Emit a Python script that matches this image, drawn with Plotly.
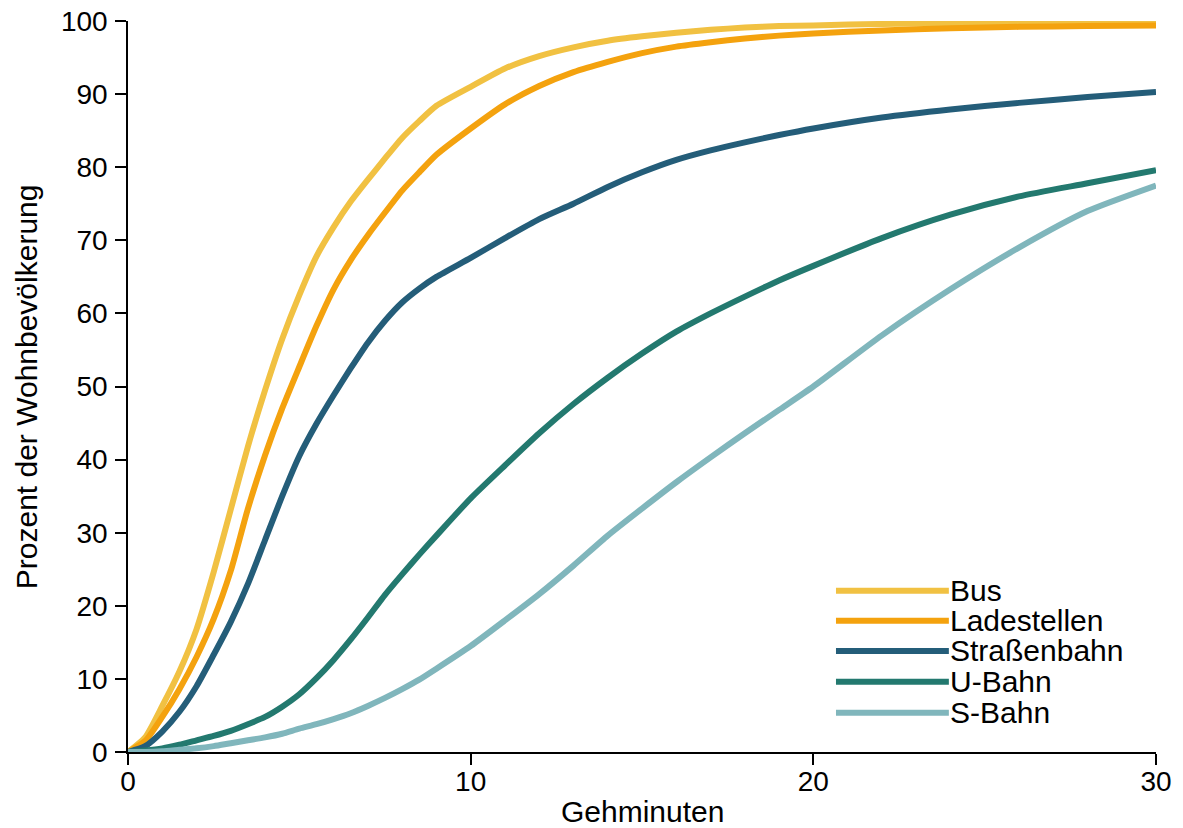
import plotly.graph_objects as go

minutes = [0, 0.5, 1, 1.5, 2, 2.5, 3, 3.5, 4, 4.5, 5, 5.5, 6, 6.5, 7, 7.5, 8, 8.5, 9,
           10, 11, 12, 13, 14, 15, 16, 17, 18, 19, 20, 22, 24, 26, 28, 30]

bus = [0, 2, 6.3, 11, 16.8, 24.6, 33.2, 41.8, 49.5, 56.5, 62.5, 67.8, 71.8, 75.3, 78.3, 81.2,
       84, 86.3, 88.4, 91, 93.5, 95.2, 96.4, 97.3, 97.9, 98.4, 98.8, 99.1, 99.3, 99.4,
       99.6, 99.7, 99.75, 99.8, 99.8]
ladestellen = [0, 1.5, 4.8, 8.6, 13, 18.2, 24.8, 33.3, 40.6, 47, 52.7, 58.3, 63.3, 67.3,
               70.7, 73.8, 76.8, 79.3, 81.7, 85.3, 88.6, 91.1, 93, 94.4, 95.6, 96.5, 97.1,
               97.6, 98.0, 98.3, 98.7, 99.0, 99.2, 99.3, 99.4]
strassenbahn = [0, 0.8, 2.8, 5.5, 9, 13.3, 17.8, 23, 29, 35, 40.5, 44.9, 48.8, 52.5, 56,
                59, 61.5, 63.4, 65, 67.6, 70.3, 72.9, 75, 77.3, 79.3, 81, 82.3, 83.4,
                84.4, 85.3, 86.8, 87.9, 88.8, 89.6, 90.3]
ubahn = [0, 0.2, 0.5, 1.0, 1.6, 2.2, 2.9, 3.8, 4.8, 6.2, 7.9, 10.1, 12.6, 15.4, 18.4, 21.5,
         24.3, 27, 29.6, 34.7, 39.2, 43.6, 47.6, 51.2, 54.5, 57.5, 60, 62.3, 64.5, 66.5,
         70.3, 73.5, 76, 77.8, 79.6]
sbahn = [0, 0, 0.1, 0.3, 0.5, 0.8, 1.2, 1.6, 2, 2.5, 3.2, 3.8, 4.5, 5.3, 6.3, 7.4, 8.6,
         9.9, 11.4, 14.5, 18, 21.6, 25.5, 29.6, 33.3, 36.9, 40.3, 43.6, 46.8, 50, 57,
         63.3, 69, 74, 77.5]

names = ["Bus", "Ladestellen", "Straßenbahn", "U-Bahn", "S-Bahn"]
series = [bus, ladestellen, strassenbahn, ubahn, sbahn]
colors = ["#F1C142", "#F4A20E", "#245D79", "#23796F", "#80B6BC"]

x_ticks = [0, 10, 20, 30]
y_ticks = [0, 10, 20, 30, 40, 50, 60, 70, 80, 90, 100]

FONT = "Liberation Sans, Arial, sans-serif"

fig = go.Figure()
for name, vals, col in zip(names, series, colors):
    fig.add_trace(go.Scatter(x=minutes, y=vals, mode="lines", name=name,
                             line=dict(color=col, width=6, shape="spline", smoothing=0.6),
                             showlegend=False))

# custom legend (long line samples like the original)
leg_y = [0.2206, 0.1796, 0.1382, 0.0962, 0.0538]
for name, col, yy in zip(names, colors, leg_y):
    fig.add_shape(type="line", xref="paper", yref="paper", x0=0.6887, x1=0.7985,
                  y0=yy, y1=yy, line=dict(color=col, width=6))
    fig.add_annotation(xref="paper", yref="paper", x=0.7975, y=yy, text=name,
                       showarrow=False, xanchor="left", yanchor="middle",
                       font=dict(family=FONT, size=30, color="black"))

# axis titles
fig.add_annotation(xref="paper", yref="paper", x=0.5, y=-0.081, text="Gehminuten",
                   showarrow=False, xanchor="center", yanchor="middle",
                   font=dict(family=FONT, size=30, color="black"))
fig.add_annotation(xref="paper", yref="paper", x=-0.0985, y=0.5,
                   text="Prozent der Wohnbevölkerung", textangle=-90,
                   showarrow=False, xanchor="center", yanchor="middle",
                   font=dict(family=FONT, size=30, color="black"))

axis_common = dict(showgrid=False, zeroline=False, showline=True, linecolor="black",
                   linewidth=1.5, ticks="outside", ticklen=11, tickwidth=1.5,
                   tickcolor="black", ticklabeloverflow="allow",
                   tickfont=dict(family=FONT, size=28, color="black"))

fig.update_xaxes(range=[0, 30], tickvals=x_ticks, ticklabelstandoff=-7, **axis_common)
fig.update_yaxes(range=[0, 100], tickvals=y_ticks, ticklabelstandoff=2, **axis_common)

fig.update_layout(width=1175, height=820, paper_bgcolor="white", plot_bgcolor="white",
                  margin=dict(l=120, r=27, t=13, b=76, autoexpand=False),
                  font=dict(family=FONT, color="black"))

fig.write_html("out.html")
